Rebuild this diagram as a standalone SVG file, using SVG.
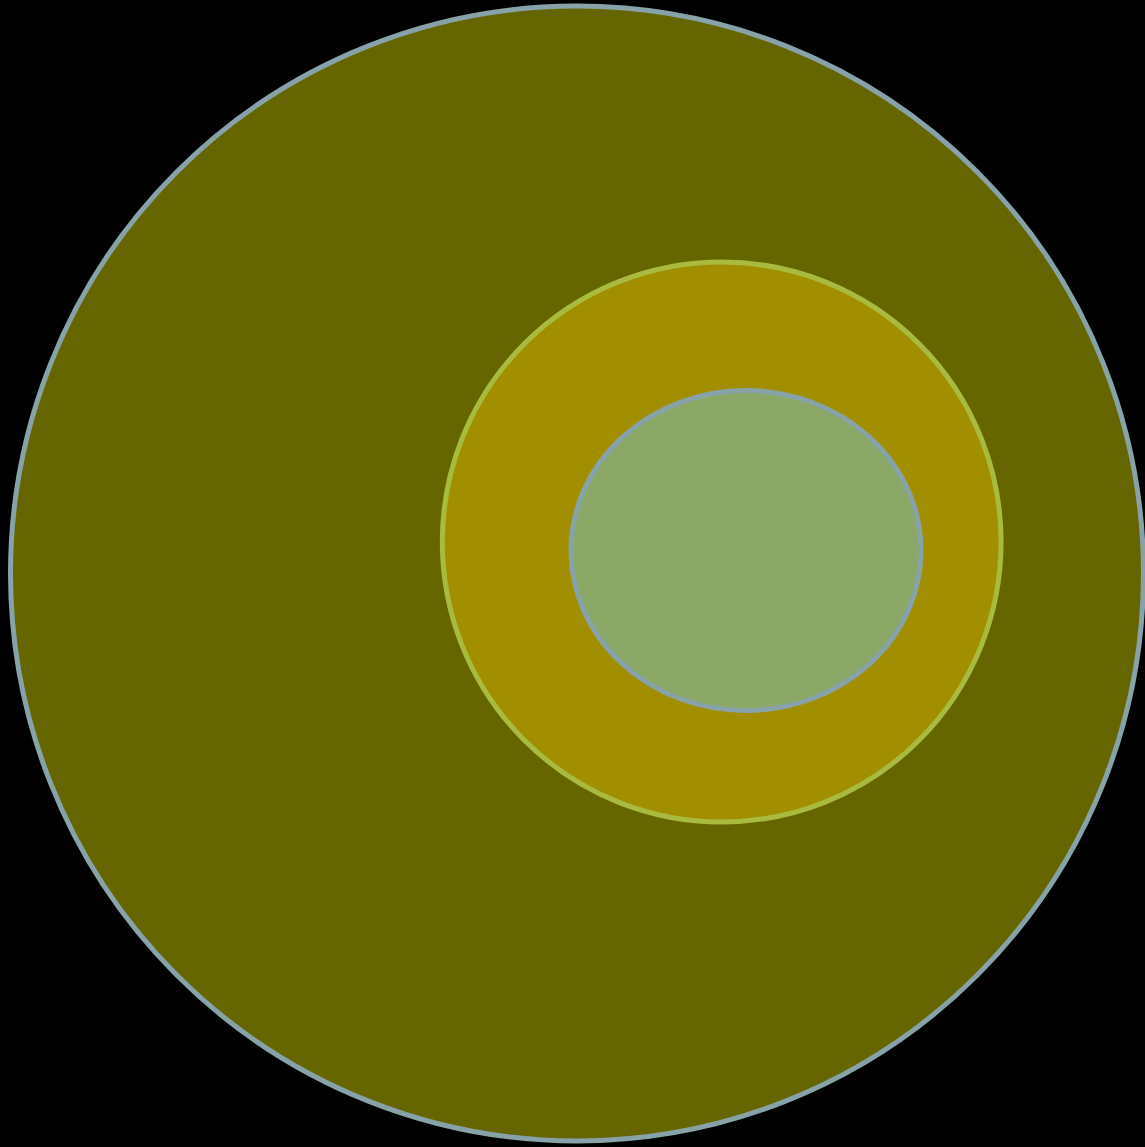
<svg xmlns="http://www.w3.org/2000/svg" width="1145" height="1147" viewBox="0 0 1145 1147">
<style>
.s{stroke-width:5}
</style>
<rect width="1145" height="1147" fill="#000"/>
<g id="outer"><ellipse class="s" cx="577" cy="573.5" rx="566.5" ry="567.5" fill="#666600" stroke="#87a2a8"/></g>
<g id="middle"><ellipse class="s" cx="721.7" cy="542" rx="279.4" ry="280" fill="#a28f00" stroke="#a9bb3e"/></g>
<g id="inner"><ellipse class="s" cx="746" cy="550.5" rx="175" ry="160" fill="#8ba866" stroke="#87a2a8"/></g>
<g id="connectors"/>
</svg>
